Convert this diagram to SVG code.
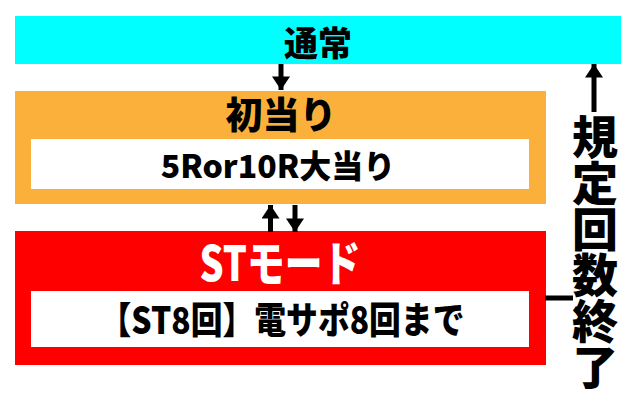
<svg xmlns="http://www.w3.org/2000/svg" width="640" height="410" viewBox="0 0 640 410">
<defs>
<style>
text{font-family:"Noto Sans CJK JP","Noto Sans",sans-serif;font-weight:900;text-anchor:middle}
.blk{fill:#000}
.wht{fill:#fff}
.conn{stroke:#000;stroke-width:5;fill:none}
.vert{writing-mode:vertical-rl;text-anchor:start}
</style>
<marker id="ah" markerUnits="userSpaceOnUse" markerWidth="24" markerHeight="18" viewBox="0 0 18 24" refX="18" refY="12" orient="auto">
<path d="M0,0 L18,12 L0,24 Z" fill="#000"/>
</marker>
</defs>
<rect width="640" height="410" fill="#fff"/>
<g id="node-normal">
<rect x="15" y="16" width="606" height="48" fill="#00FFFF"/>
<text class="blk" x="318" y="56" font-size="34">通常</text>
</g>
<g id="node-first">
<rect x="15" y="91" width="531" height="113" fill="#FBB03B"/>
<rect x="31" y="139" width="498" height="50" fill="#fff"/>
<text class="blk" x="281" y="129" font-size="37">初当り</text>
<text class="blk" x="278" y="178" font-size="32">5Ror10R大当り</text>
</g>
<g id="node-st">
<rect x="15" y="231" width="531" height="134" fill="#FF0000"/>
<rect x="31" y="291" width="498" height="56" fill="#fff"/>
<text class="wht" x="280" y="281" font-size="48" textLength="161" lengthAdjust="spacingAndGlyphs">STモード</text>
<text class="blk" x="282" y="334" font-size="37" textLength="365" lengthAdjust="spacingAndGlyphs">【ST8回】電サポ8回まで</text>
</g>
<g id="label-end">
<text class="blk vert" x="595" y="114" font-size="46">規定回数終了</text>
</g>
<g id="connectors">
<line class="conn" x1="281" y1="64" x2="281" y2="90" marker-end="url(#ah)"/>
<line class="conn" x1="270.5" y1="232" x2="270.5" y2="205" marker-end="url(#ah)"/>
<line class="conn" x1="295" y1="205" x2="295" y2="232" marker-end="url(#ah)"/>
<line class="conn" x1="545" y1="298" x2="573" y2="298"/>
<line class="conn" x1="594" y1="112" x2="594" y2="64" marker-end="url(#ah)"/>
</g>
</svg>
